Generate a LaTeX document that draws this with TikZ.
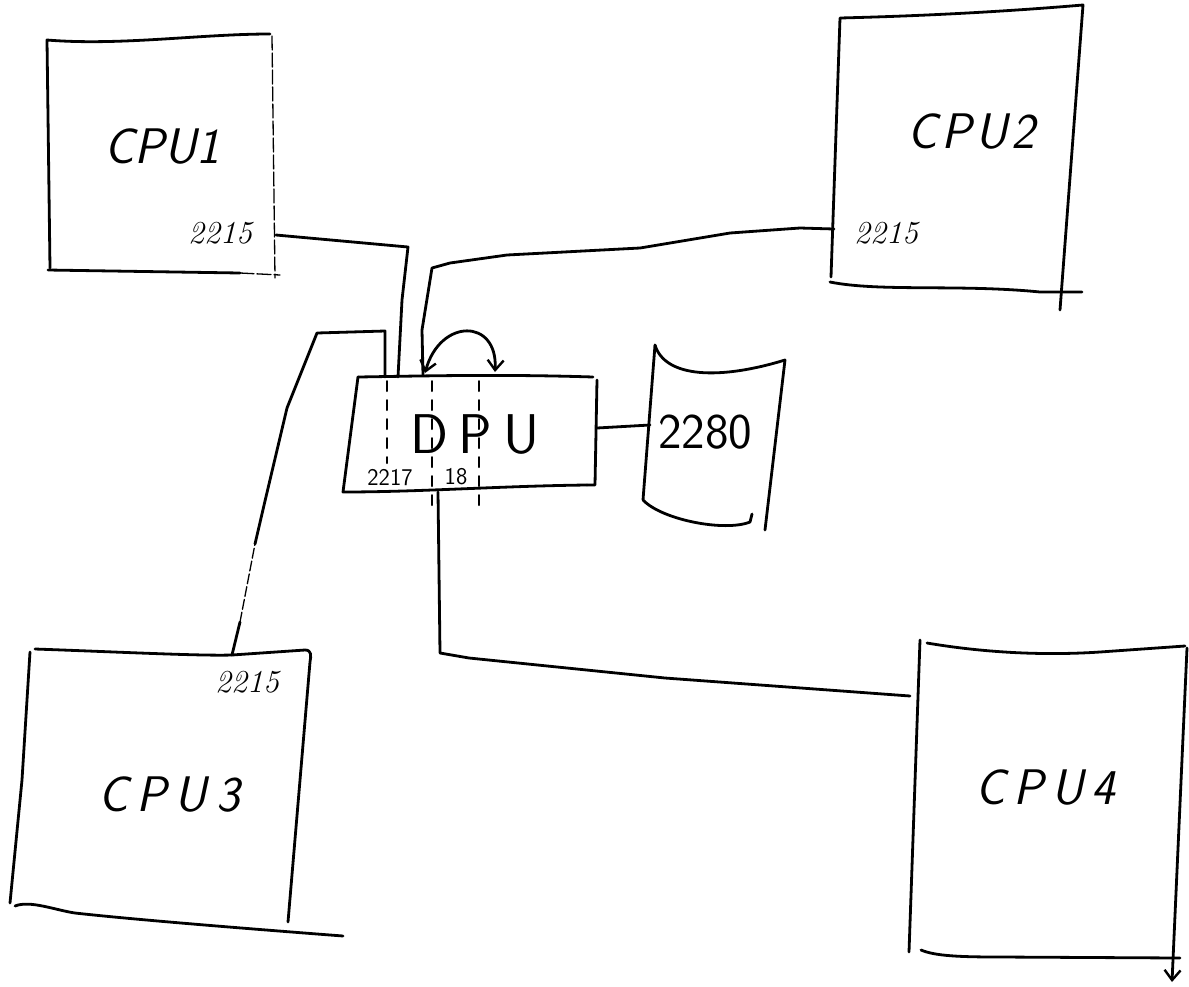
\documentclass[tikz,border=0pt]{standalone}
\usetikzlibrary{arrows.meta}
\begin{document}
\begin{tikzpicture}[x=1pt,y=-1pt,line cap=round,line join=round,
  ink/.style={draw=black,line width=2.8pt},
  faint/.style={draw=black,line width=1.3pt,dash pattern=on 14pt off 3pt},
  dashv/.style={draw=black,line width=2pt,dash pattern=on 10pt off 9pt},
  cpulabel/.style={font=\fontsize{50}{50}\selectfont\sffamily\itshape,inner sep=0pt},
  portlabel/.style={font=\fontsize{32}{32}\selectfont\itshape,inner sep=0pt},
  dpulabel/.style={font=\fontsize{56}{56}\selectfont\sffamily,inner sep=0pt},
  smalllabel/.style={font=\fontsize{24}{24}\selectfont\sffamily,inner sep=0pt},
  barb/.style={-{Straight Barb[length=10pt,width=16pt,line width=2.4pt]}}
]
\useasboundingbox (0,0) rectangle (1189,986);

% ---------------- CPU1 ----------------
\draw[ink] (50,268) -- (47,40) .. controls (120,46) and (200,34) .. (270,34);
\draw[faint] (272,36) -- (275,278);
\draw[ink] (48,270) -- (240,273);
\draw[faint] (240,273) -- (280,275);
\node[cpulabel] (cpu1) at (162,147) {CPU1};
\node[portlabel] (p1) at (220,233) {2215};
\coordinate (c1) at (276,235);

% ---------------- CPU2 ----------------
\draw[ink] (831,277) -- (840,18) .. controls (920,16) and (1000,12) .. (1083,5) -- (1060,310);
\draw[ink] (830,282) .. controls (880,292) and (960,284) .. (1040,292) -- (1082,292);
\node[cpulabel] (cpu2) at (971,132) {C\hspace{4pt}P\hspace{4pt}U\hspace{4pt}2};
\node[portlabel] (p2) at (886,233) {2215};
\coordinate (c2) at (834,229);

% ---------------- CPU3 ----------------
\draw[ink] (30,652) -- (22,780) -- (10,903);
\draw[ink] (35,649) .. controls (120,652) and (200,656) .. (232,655) -- (305,650) .. controls (312,650) and (311,656) .. (310,662) -- (288,922);
\draw[ink] (15,906) .. controls (30,900) and (55,910) .. (75,913) .. controls (120,918) and (200,925) .. (343,936);
\node[cpulabel] (cpu3) at (169,795) {C\hspace{8pt}P\hspace{8pt}U\hspace{10pt}3};
\node[portlabel] (p3) at (247,682) {2215};
\coordinate (c3) at (232,655);

% ---------------- CPU4 ----------------
\draw[ink] (920,640) -- (909,952);
\draw[ink] (927,643) .. controls (980,652) and (1040,656) .. (1100,652) -- (1185,646);
\draw[ink,barb] (1187,648) -- (1172,982);
\draw[ink] (921,950) .. controls (935,956) and (960,957) .. (1000,957) -- (1180,958);
\node[cpulabel] (cpu4) at (1045,788) {C\hspace{8pt}P\hspace{8pt}U\hspace{8pt}4};
\coordinate (c4) at (910,696);

% ---------------- DPU ----------------
\draw[ink] (358,377) .. controls (420,376) and (500,374) .. (593,377);
\draw[ink] (597,380) -- (595,485) -- (587,485);
\draw[ink] (587,485) .. controls (500,486) and (420,492) .. (343,492) -- (358,377);
\node[dpulabel] (dpu) at (475,435) {D\hspace{10pt}P\hspace{12pt}U};
\draw[dashv] (387,381) -- (387,463);
\draw[dashv] (432,381) -- (432,505);
\draw[dashv] (479,381) -- (479,505);
\node[smalllabel] (l17) at (390,478) {2217};
\node[smalllabel] (l18) at (456,477) {18};
\coordinate (d3) at (385,377);
\coordinate (d1) at (398,377);
\coordinate (d2) at (423,375);
\coordinate (d4) at (438,492);
\coordinate (d5) at (597,428);
\coordinate (loopa) at (425,373);
\coordinate (loopb) at (495,372);
\draw[ink,{Straight Barb[length=10pt,width=16pt,line width=2.4pt]}-{Straight Barb[length=10pt,width=16pt,line width=2.4pt]}]
  (loopa) .. controls (440,318) and (498,318) .. (loopb);

% ---------------- 2280 drum ----------------
\draw[ink] (655,345) -- (643,500);
\draw[ink] (655,345) .. controls (665,378) and (720,380) .. (785,360) -- (765,530);
\draw[ink] (643,500) .. controls (662,520) and (725,532) .. (750,522) -- (752,514);
\node[dpulabel,font=\fontsize{50}{50}\selectfont\sffamily] (disk) at (705,432) {2280};
\coordinate (k1) at (650,425);

% ---------------- connectors ----------------
\draw[ink] (c1) -- (408,247) -- (402,300) -- (d1);
\draw[ink] (c2) -- (800,228) -- (730,233) -- (640,248) -- (507,255) -- (450,263) -- (432,268) -- (422,330) -- (d2);
\draw[ink] (c3) -- (240,622);
\draw[draw=black,line width=1.3pt,dash pattern=on 10pt off 3pt] (240,622) -- (255,544);
\draw[ink] (255,544) -- (265,501) -- (287,408) -- (317,333) -- (385,331) -- (d3);
\draw[ink] (d4) -- (440,653) -- (469,658) -- (665,678) -- (c4);
\draw[ink] (d5) -- (k1);
\end{tikzpicture}
\end{document}
